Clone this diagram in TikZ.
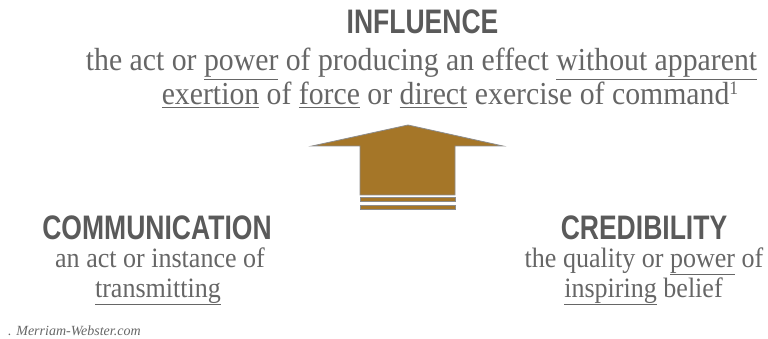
\documentclass[tikz,border=0pt]{standalone}
\usepackage{fontspec}
\setmainfont[FakeStretch=0.93]{Liberation Serif}
\newfontfamily\headfont[FakeStretch=0.78]{Liberation Sans Bold}
\newfontfamily\notefont{Liberation Serif}
\definecolor{txtgray}{HTML}{666666}
\definecolor{headgray}{HTML}{5A5A5A}
\definecolor{arrowfill}{HTML}{A57628}
\definecolor{arrowline}{HTML}{8C8C8C}
\tikzset{
  heading/.style={font=\headfont\fontsize{34}{34}\selectfont, text=headgray, inner sep=0pt, anchor=base},
  body/.style={font=\fontsize{32}{36}\selectfont, text=txtgray, inner sep=0pt, anchor=base},
  smallbody/.style={font=\fontsize{28}{32}\selectfont, text=txtgray, inner sep=0pt, anchor=base},
  arrowpart/.style={fill=arrowfill, draw=arrowline, line width=0.8pt},
}
\newcommand{\ul}[1]{\underline{#1}}
\newcommand{\fnmark}[1]{\raisebox{10pt}{\fontsize{19}{19}\selectfont #1}}
\begin{document}
\begin{tikzpicture}[x=1pt,y=-1pt]
\useasboundingbox (0,0) rectangle (768,339);
\node[heading] (infl) at (422.5,34) {INFLUENCE};
\node[body] (def1) at (421.5,71) {the act or \ul{power} of producing an effect \ul{without apparent}};
\node[body] (def2) at (450,105) {\ul{exertion} of \ul{force} or \ul{direct} exercise of command\fnmark{1}};
\draw[arrowpart] (408,125) -- (503,146) -- (455,146) -- (455,195) -- (360,195) -- (360,146) -- (312,146) -- cycle;
\draw[arrowpart] (360,197) rectangle (455,201);
\draw[arrowpart] (360,205) rectangle (455,209);
\node[heading] (comm) at (157,239) {COMMUNICATION};
\node[smallbody] (cdef1) at (160,267) {an act or instance of};
\node[smallbody] (cdef2) at (158,297) {\ul{transmitting}};
\node[heading] (cred) at (644,239) {CREDIBILITY};
\node[smallbody] (crdef1) at (644,267) {the quality or \ul{power} of};
\node[smallbody] (crdef2) at (643.5,297) {\ul{inspiring} belief};
\node[font=\notefont\itshape\fontsize{14}{14}\selectfont, text=txtgray, inner sep=0pt, anchor=base west] (src) at (8,335) {. Merriam-Webster.com};
\end{tikzpicture}
\end{document}
